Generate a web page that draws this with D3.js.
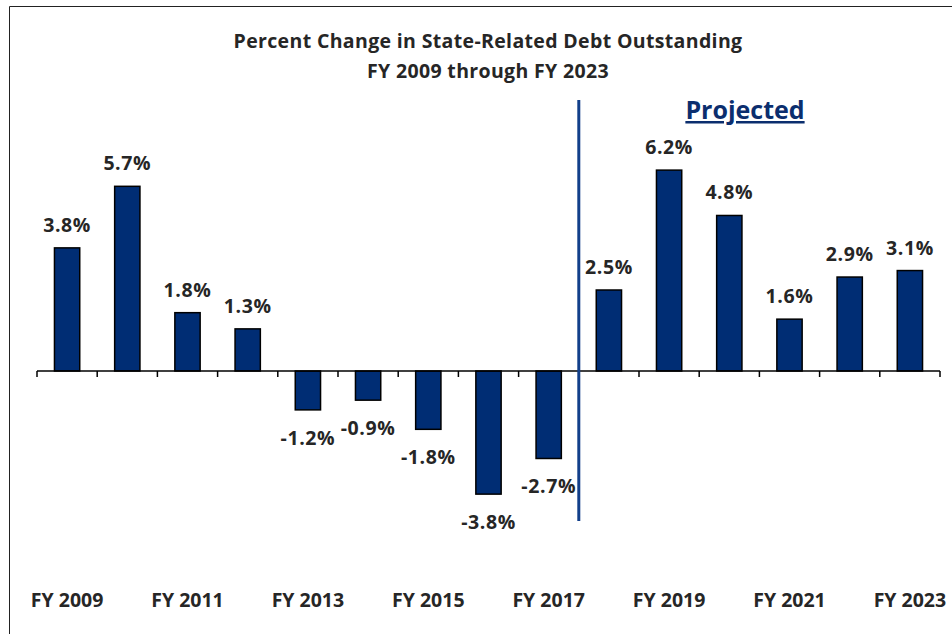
<!DOCTYPE html>
<html>
<head>
<meta charset="utf-8">
<script src="https://cdn.jsdelivr.net/npm/d3@7"></script>
<style>
  body { margin: 0; background: #fff; }
  svg { display: block; font-family: "Open Sans", Lato, sans-serif; }
</style>
</head>
<body>
<div id="chart"></div>
<script>
// fiscal years and % change in state-related debt outstanding
const years = ['FY 2009', 'FY 2010', 'FY 2011', 'FY 2012', 'FY 2013', 'FY 2014', 'FY 2015',
  'FY 2016', 'FY 2017', 'FY 2018', 'FY 2019', 'FY 2020', 'FY 2021', 'FY 2022', 'FY 2023'];
const pctChange = [3.8, 5.7, 1.8, 1.3, -1.2, -0.9, -1.8, -3.8, -2.7, 2.5, 6.2, 4.8, 1.6, 2.9, 3.1];
const tickLabels = ['FY 2009', 'FY 2011', 'FY 2013', 'FY 2015', 'FY 2017', 'FY 2019', 'FY 2021', 'FY 2023'];
const projectedFrom = 'FY 2018';
const titleLines = ['Percent Change in State-Related Debt Outstanding', 'FY 2009 through FY 2023'];

const width = 952;
const height = 634;

const svg = d3.select('#chart').append('svg')
  .attr('width', width)
  .attr('height', height);

// frame (only left and top edges fall inside the picture)
svg.append('path')
  .attr('d', `M9.5,${height} V6.5 H${width}`)
  .attr('fill', 'none')
  .attr('stroke', '#222')
  .attr('stroke-width', 1);

const x = d3.scaleBand()
  .domain(years)
  .range([37, 940])
  .paddingInner(0.58)
  .paddingOuter(0.29);

// 1% ~ 32.4px, zero at y=371
const y = d3.scaleLinear()
  .domain([-5, 7])
  .range([371 + 5 * 32.4, 371 - 7 * 32.4]);

// title
svg.append('g')
  .selectAll('text')
  .data(titleLines)
  .join('text')
  .attr('x', 488)
  .attr('y', (d, i) => 48 + i * 30)
  .attr('text-anchor', 'middle')
  .attr('font-size', 19.5)
  .attr('letter-spacing', 0.35)
  .attr('font-weight', 'bold')
  .attr('fill', '#262626')
  .text(d => d);

// bars
svg.append('g')
  .selectAll('rect')
  .data(pctChange)
  .join('rect')
  .attr('x', (d, i) => x(years[i]))
  .attr('width', x.bandwidth())
  .attr('y', d => y(Math.max(0, d)))
  .attr('height', d => Math.abs(y(d) - y(0)))
  .attr('fill', '#002D74')
  .attr('stroke', '#000')
  .attr('stroke-width', 1.5);

// zero axis with ticks between categories
const step = x.step();
const axisG = svg.append('g');
axisG.append('line')
  .attr('x1', x.range()[0]).attr('x2', x.range()[1])
  .attr('y1', y(0)).attr('y2', y(0))
  .attr('stroke', '#000')
  .attr('stroke-width', 1.5);
axisG.selectAll('line.tick')
  .data(d3.range(years.length + 1))
  .join('line')
  .attr('class', 'tick')
  .attr('x1', i => x.range()[0] + i * step)
  .attr('x2', i => x.range()[0] + i * step)
  .attr('y1', y(0))
  .attr('y2', y(0) + 6)
  .attr('stroke', '#000')
  .attr('stroke-width', 1.5);

// value labels
svg.append('g')
  .selectAll('text')
  .data(pctChange)
  .join('text')
  .attr('x', (d, i) => x(years[i]) + x.bandwidth() / 2)
  .attr('y', d => d >= 0 ? y(d) - 16 : y(d) + 35)
  .attr('text-anchor', 'middle')
  .attr('font-size', 19.5)
  .attr('letter-spacing', 0.6)
  .attr('font-weight', 'bold')
  .attr('fill', '#262626')
  .text(d => d.toFixed(1) + '%');

// category labels at the bottom
svg.append('g')
  .selectAll('text')
  .data(tickLabels)
  .join('text')
  .attr('x', d => x(d) + x.bandwidth() / 2)
  .attr('y', 607)
  .attr('text-anchor', 'middle')
  .attr('font-size', 19.5)
  .attr('font-weight', 'bold')
  .attr('fill', '#262626')
  .text(d => d);

// projected divider
const divX = x(projectedFrom) - (step - x.bandwidth()) / 2;
svg.append('line')
  .attr('x1', divX).attr('x2', divX)
  .attr('y1', 100).attr('y2', 521)
  .attr('stroke', '#123F8A')
  .attr('stroke-width', 3);

svg.append('text')
  .attr('x', 745)
  .attr('y', 119)
  .attr('text-anchor', 'middle')
  .attr('font-size', 25)
  .attr('font-weight', 'bold')
  .attr('fill', '#0B2E6E')
  .attr('text-decoration', 'underline')
  .text('Projected');
</script>
</body>
</html>
